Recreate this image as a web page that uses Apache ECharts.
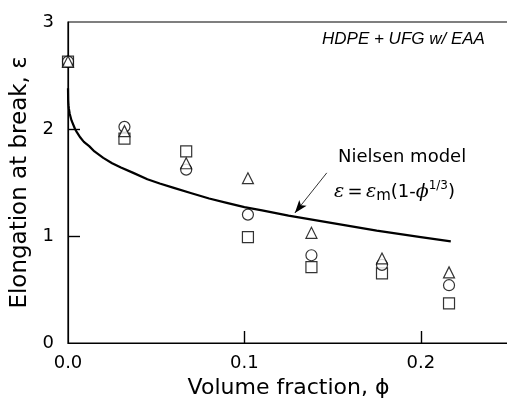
<!DOCTYPE html>
<html>
<head>
<meta charset="utf-8">
<script src="https://cdn.jsdelivr.net/npm/echarts@6/dist/echarts.min.js"></script>
<style>html,body{margin:0;padding:0;background:#fff}#c{width:507px;height:402px}</style>
</head>
<body>
<div id="c"></div>
<script>
const phi = [0, 0.032, 0.067, 0.102, 0.138, 0.178, 0.216];
const squareVals = [2.63, 1.91, 1.79, 0.99, 0.71, 0.65, 0.37];
const circleVals = [2.63, 2.02, 1.62, 1.20, 0.82, 0.73, 0.54];
const triangleVals = [2.63, 1.98, 1.68, 1.54, 1.03, 0.79, 0.66];
const modelPhi = [0, 0.0001, 0.0002, 0.0003, 0.0005, 0.001, 0.0015, 0.002, 0.003, 0.004, 0.005, 0.007, 0.009, 0.012, 0.015, 0.02, 0.025, 0.03, 0.037, 0.045, 0.052, 0.06, 0.07, 0.08, 0.09, 0.1, 0.11, 0.125, 0.15, 0.175, 0.2, 0.217];
const modelVals = [2.38, 2.27, 2.24, 2.22, 2.19, 2.14, 2.11, 2.08, 2.04, 2.00, 1.97, 1.92, 1.88, 1.84, 1.79, 1.73, 1.68, 1.64, 1.59, 1.53, 1.49, 1.45, 1.40, 1.35, 1.31, 1.27, 1.24, 1.19, 1.12, 1.05, 0.99, 0.95];
const xTicks = ['0.0', '0.1', '0.2'];
const yTicks = ['0', '1', '2', '3'];
const xTickVals = [0.1, 0.2];
const yTickVals = [1, 2];

const pair = (xs, ys) => xs.map((x, i) => [x, ys[i]]);
const FONT = 'DejaVu Sans';
const mk = (name, sym, size, vals) => ({
  name, type: 'scatter', symbol: sym, symbolSize: size, clip: false,
  data: pair(phi, vals),
  itemStyle: { color: '#fff', borderColor: '#000', borderWidth: 1.2 }, z: 3
});
const X_TICK_LEN = 0.112;   // ~12 px in y units
const Y_TICK_LEN = 0.0068;  // ~12 px in x units
const tickSegs = xTickVals.map(v => [{ coord: [v, 0] }, { coord: [v, X_TICK_LEN] }])
  .concat(yTickVals.map(v => [{ coord: [0, v] }, { coord: [Y_TICK_LEN, v] }]));

const chart = echarts.init(document.getElementById('c'));
chart.setOption({
  animation: false,
  backgroundColor: '#fff',
  grid: { left: 68, right: -2, top: 22, bottom: 59, show: true, borderColor: '#000', borderWidth: 1.2,
    outerBoundsMode: 'none' },
  xAxis: {
    type: 'value', min: 0, max: 0.25, interval: 0.1,
    axisLine: { lineStyle: { color: '#000', width: 1.2 } },
    axisTick: { show: false },
    splitLine: { show: false },
    axisLabel: { color: '#000', fontFamily: FONT, fontSize: 18, margin: 11, showMaxLabel: false,
      formatter: v => xTicks[Math.round(v * 10)] || '' },
    name: 'Volume fraction, ϕ', nameLocation: 'middle', nameGap: 33,
    nameTextStyle: { color: '#000', fontFamily: FONT, fontSize: 22 }
  },
  yAxis: {
    type: 'value', min: 0, max: 3, interval: 1,
    axisLine: { lineStyle: { color: '#000', width: 1.2 } },
    axisTick: { show: false },
    splitLine: { show: false },
    axisLabel: { color: '#000', fontFamily: FONT, fontSize: 18, margin: 14,
      formatter: v => yTicks[Math.round(v)] },
    name: 'Elongation at break, ε', nameLocation: 'middle', nameGap: 31,
    nameTextStyle: { color: '#000', fontFamily: FONT, fontSize: 23 }
  },
  series: [
    mk('square', 'rect', 11, squareVals),
    mk('circle', 'circle', 11, circleVals),
    mk('triangle', 'triangle', 11, triangleVals),
    {
      name: 'Nielsen', type: 'line', data: pair(modelPhi, modelVals), showSymbol: false,
      smooth: false, clip: false, lineStyle: { color: '#000', width: 2.2, join: 'round' }, z: 4,
      markLine: {
        silent: true, symbol: ['none', 'arrow'], symbolSize: [7, 13],
        lineStyle: { color: '#000', width: 0.8, type: 'solid' },
        label: { show: false },
        data: [[{ coord: [0.1467, 1.59] }, { coord: [0.1286, 1.215] }]]
      }
    },
    {
      name: 'ticks', type: 'line', data: [[0, 0]], showSymbol: false, silent: true,
      lineStyle: { opacity: 0 }, z: 5,
      markLine: {
        silent: true, symbol: ['none', 'none'], animation: false,
        lineStyle: { color: '#000', width: 1.4, type: 'solid' },
        label: { show: false },
        data: tickSegs
      }
    }
  ],
  graphic: [
    { type: 'text', left: 322, top: 31, style: { text: 'HDPE + UFG w/ EAA', font: 'italic 17px "Liberation Sans"', fill: '#000' } },
    { type: 'text', left: 338, top: 148, style: { text: 'Nielsen model', font: '18px "DejaVu Sans"', fill: '#000' } },
    { type: 'text', left: 334, top: 180, style: {
      rich: {
        e: { font: 'italic 19px "DejaVu Serif"', fill: '#000' },
        n: { font: '18px "DejaVu Sans"', fill: '#000' },
        s: { font: '15px "DejaVu Sans"', fill: '#000', verticalAlign: 'bottom', padding: [6, 0, 0, 0] },
        p: { font: 'italic 19px "DejaVu Serif"', fill: '#000' },
        sup: { font: '12px "DejaVu Sans"', fill: '#000', verticalAlign: 'top', padding: [0, 0, 12, 0] }
      },
      text: '{e|ε} {n|=} {e|ε}{s|m}{n|(1-}{p|ϕ}{sup|1/3}{n|)}'
    } }
  ]
});
</script>
</body>
</html>
